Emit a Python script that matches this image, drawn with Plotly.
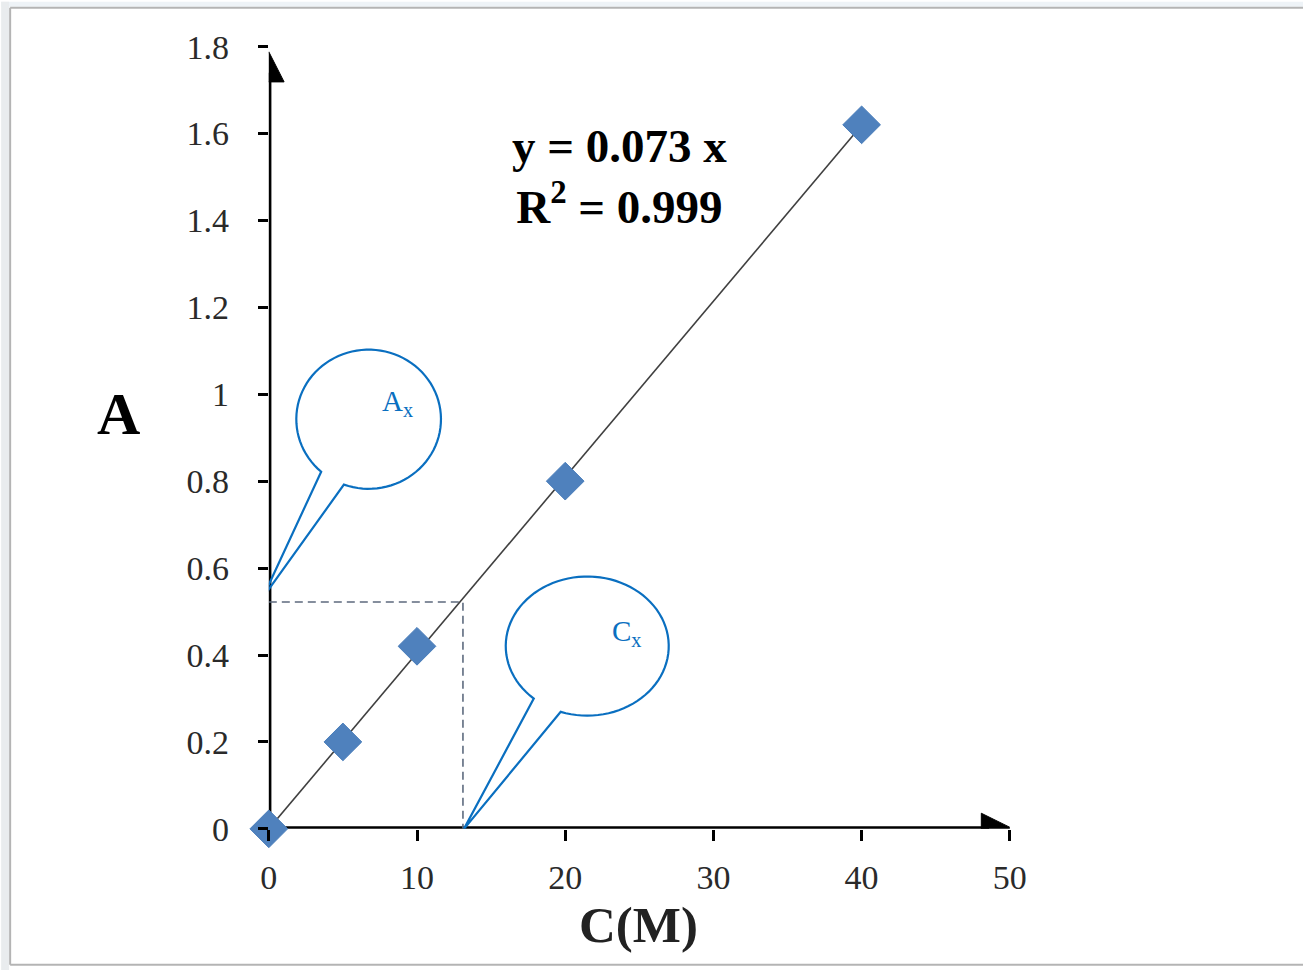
import numpy as np
import plotly.graph_objects as go

# ---------------- data ----------------
conc = [0, 5, 10, 20, 40]            # C (M)
absorb = [0.0, 0.2, 0.42, 0.8, 1.62]  # A
x_ticks = [0, 10, 20, 30, 40, 50]
y_ticks = [0, 0.2, 0.4, 0.6, 0.8, 1, 1.2, 1.4, 1.6, 1.8]
y_tick_text = ["0", "0.2", "0.4", "0.6", "0.8", "1", "1.2", "1.4", "1.6", "1.8"]
A_x = 0.522     # unknown absorbance
C_x = 13.1      # read-off concentration
eq_text = "<b>y = 0.073 x<br>R<sup>2</sup> = 0.999</b>"

# --- mapping from target picture pixels to figure pixels (page offset + capture scale)
SX, SY = 0.9816, 0.963
OX, OY = 8, 17
FW, FH = 1320, 975


def fx(X):
    return X / SX - OX


def fy(Y):
    return Y / SY - OY


def px(X):
    return fx(X) / FW


def py(Y):
    return 1 - fy(Y) / FH


def ddx(d):
    return d / SX


def ddy(d):
    return d / SY


X_RANGE = [0, 50]
Y_RANGE = [0, 1.8]
xdom = [px(268), px(1010)]
ydom = [py(828), py(45)]

slope = float(np.dot(conc, absorb) / np.dot(conc, conc))
trend_x = [0, max(conc)]
trend_y = [slope * v for v in trend_x]

SERIF = "Liberation Serif, Times New Roman, serif"
BLUE = "#0a6fc0"
FS = 1 / ((SX + SY) / 2)   # font compensation

fig = go.Figure()

fig.add_trace(go.Scatter(x=[0, C_x, C_x], y=[A_x, A_x, 0], mode="lines",
                         line=dict(color="#5d6a7e", width=1.6, dash="8px,5px"),
                         hoverinfo="skip", cliponaxis=False))
fig.add_trace(go.Scatter(x=trend_x, y=trend_y, mode="lines",
                         line=dict(color="#404040", width=1.6),
                         hoverinfo="skip"))
fig.add_trace(go.Scatter(x=conc, y=absorb, mode="markers",
                         marker=dict(symbol="diamond", size=29, color="#4f81bd",
                                     line=dict(color="#4a7ebb", width=1)),
                         cliponaxis=False))

shapes = []
shapes.append(dict(type="line", xref="x", yref="y", x0=0, y0=0, x1=0, y1=1.74,
                   line=dict(color="black", width=5.2), layer="below"))
shapes.append(dict(type="line", xref="x", yref="y", x0=0, y0=0, x1=48.6, y1=0,
                   line=dict(color="black", width=5.2), layer="below"))
shapes.append(dict(type="path", xref="x", yref="y", xsizemode="pixel", ysizemode="pixel",
                   xanchor=0, yanchor=Y_RANGE[1],
                   path=f"M 0,{-ddy(5):.1f} L {-ddx(15):.1f},{-ddy(34):.1f} L {ddx(15):.1f},{-ddy(34):.1f} Z",
                   fillcolor="black", line=dict(color="black", width=1), layer="below"))
shapes.append(dict(type="path", xref="x", yref="y", xsizemode="pixel", ysizemode="pixel",
                   xanchor=X_RANGE[1], yanchor=0,
                   path=f"M {ddx(3):.1f},0 L {-ddx(28):.1f},{ddy(15):.1f} L {-ddx(28):.1f},{-ddy(15):.1f} Z",
                   fillcolor="black", line=dict(color="black", width=1), layer="below"))


def bubble(cx, cy, rx, ry, a1, a2, tip=(0, 0), n=90):
    """speech bubble outline; geometry given in target pixels (y up) relative to anchor"""
    t = np.radians(np.linspace(a1, a2 - 360, n))
    pts = [f"{ddx(tip[0]):.2f},{ddy(tip[1]):.2f}"]
    pts += [f"{ddx(cx + rx*np.cos(v)):.2f},{ddy(cy + ry*np.sin(v)):.2f}" for v in t]
    return "M " + " L ".join(pts) + " Z"


shapes.append(dict(type="path", xref="x", yref="y", xsizemode="pixel", ysizemode="pixel",
                   xanchor=0, yanchor=A_x,
                   path=bubble(98, 176, 71, 67, -131, -110, tip=(-6, 4)),
                   line=dict(color=BLUE, width=2.2), layer="above"))
shapes.append(dict(type="path", xref="x", yref="y", xsizemode="pixel", ysizemode="pixel",
                   xanchor=C_x, yanchor=0,
                   path=bubble(122, 176, 80, 67, -131, -109, tip=(1, 0)),
                   line=dict(color=BLUE, width=2.2), layer="above"))

# picture frame
shapes.append(dict(type="rect", xref="paper", yref="paper", x0=px(0), x1=1, y0=py(5), y1=py(0),
                   fillcolor="#eef3f7", line=dict(width=0), layer="below"))
shapes.append(dict(type="rect", xref="paper", yref="paper", x0=px(0), x1=px(8), y0=py(970), y1=py(0),
                   fillcolor="#e9ecee", line=dict(width=0), layer="below"))
frame_line = dict(color="#b4b4b4", width=2)
shapes.append(dict(type="line", xref="paper", yref="paper", x0=px(9), x1=px(9),
                   y0=py(6), y1=py(964), line=frame_line, layer="below"))
shapes.append(dict(type="line", xref="paper", yref="paper", x0=px(9), x1=1,
                   y0=py(6), y1=py(6), line=frame_line, layer="below"))
shapes.append(dict(type="line", xref="paper", yref="paper", x0=px(9), x1=1,
                   y0=py(964), y1=py(964), line=frame_line, layer="below"))

annotations = [
    dict(text=eq_text, xref="x", yref="y", x=23.65, y=1.5, showarrow=False,
         xanchor="center", yanchor="middle", align="center",
         font=dict(family=SERIF, size=round(46 * FS), color="black")),
    dict(text="<b>A</b>", xref="paper", yref="y", x=px(117), y=0.955, showarrow=False,
         xanchor="center", yanchor="middle",
         font=dict(family=SERIF, size=round(58 * FS), color="black")),
    dict(text="A<sub>x</sub>", xref="x", yref="y", x=7.5, y=0.98, showarrow=False,
         xanchor="left", yanchor="middle", font=dict(family=SERIF, size=round(28 * FS), color=BLUE)),
    dict(text="C<sub>x</sub>", xref="x", yref="y", x=23.0, y=0.45, showarrow=False,
         xanchor="left", yanchor="middle", font=dict(family=SERIF, size=round(28 * FS), color=BLUE)),
    dict(text="<b>C(M)</b>", xref="x", yref="paper", x=24.93, y=py(924), showarrow=False,
         xanchor="center", yanchor="middle",
         font=dict(family=SERIF, size=round(50 * FS), color="#222222")),
]

tick_font = dict(family=SERIF, size=round(33 * FS), color="#2a2a2a")
fig.update_layout(
    width=FW, height=FH, autosize=False,
    margin=dict(l=0, r=0, t=0, b=0),
    paper_bgcolor="white", plot_bgcolor="white",
    showlegend=False,
    shapes=shapes, annotations=annotations,
    xaxis=dict(domain=xdom, range=X_RANGE, tickvals=x_ticks, ticktext=[str(v) for v in x_ticks],
               ticks="outside", ticklen=11, tickwidth=3, tickcolor="black",
               showgrid=False, zeroline=False, showline=False,
               tickfont=tick_font, ticklabelstandoff=7),
    yaxis=dict(domain=ydom, range=Y_RANGE, tickvals=y_ticks, ticktext=y_tick_text,
               ticks="outside", ticklen=10, tickwidth=3, tickcolor="black",
               showgrid=False, zeroline=False, showline=False,
               tickfont=tick_font, ticklabelstandoff=22),
)

fig.write_html("out.html", config={"displayModeBar": False})
